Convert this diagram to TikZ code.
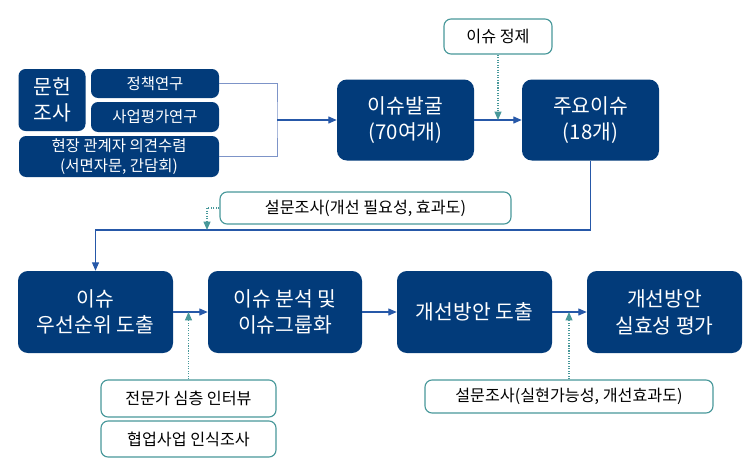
\documentclass[tikz,border=0pt]{standalone}
\usepackage{fontspec}
\setmainfont{Noto Sans CJK KR}
\usetikzlibrary{arrows.meta}
\definecolor{navy}{RGB}{2,59,122}
\definecolor{teal}{RGB}{72,152,154}
\definecolor{flowblue}{RGB}{38,88,168}
\definecolor{brkblue}{RGB}{125,148,200}
\begin{document}
\begin{tikzpicture}
    \tikzstyle{dark}=[rectangle,rounded corners=7pt,fill=navy,text=white,align=center,inner sep=0pt,
                      font=\fontsize{14.5}{19}\selectfont]
    \tikzstyle{small}=[dark,rounded corners=5pt,font=\fontsize{11}{14}\selectfont]
    \tikzstyle{note}=[rectangle,rounded corners=5pt,draw=teal,line width=0.8pt,fill=white,align=center,
                      inner sep=0pt,font=\fontsize{11.5}{14}\selectfont]
    \tikzstyle{flow}=[flowblue,line width=0.8pt,-{Triangle[length=6pt,width=5pt]}]
    \tikzstyle{bracket}=[brkblue,line width=0.7pt]
    \tikzstyle{hint}=[teal,line width=0.8pt,densely dotted,-{Triangle[length=6pt,width=5pt]}]
    \useasboundingbox (0,0) rectangle (18.825,11.65);

    \node[small,minimum width=1.675cm,minimum height=1.55cm,font=\fontsize{14.5}{19}\selectfont]
        (munhun) at (1.3,9.15) {문헌\\조사};
    \node[small,minimum width=3.2cm,minimum height=0.725cm] (jeongchaek) at (3.875,9.5625) {정책연구};
    \node[small,minimum width=3.2cm,minimum height=0.75cm] (saeop) at (3.875,8.725) {사업평가연구};
    \node[small,minimum width=5cm,minimum height=1.025cm] (hyeonjang) at (2.975,7.7375)
        {현장 관계자 의견수렴\\(서면자문, 간담회)};

    \node[dark,minimum width=3.425cm,minimum height=2.025cm] (balgul) at (10.1375,8.65) {이슈발굴\\(70여개)};
    \node[dark,minimum width=3.425cm,minimum height=2.025cm] (juyo) at (14.7625,8.65) {주요이슈\\(18개)};
    \node[note,minimum width=2.7cm,minimum height=0.875cm] (jeongje) at (12.45,10.7375) {이슈 정제};
    \node[note,minimum width=7.275cm,minimum height=0.8cm] (survey1) at (9.1375,6.45)
        {설문조사(개선 필요성, 효과도)};

    \node[dark,minimum width=3.875cm,minimum height=2.05cm] (usun) at (2.3875,3.85) {이슈\\우선순위 도출};
    \node[dark,minimum width=3.85cm,minimum height=2.05cm] (bunseok) at (7.125,3.85) {이슈 분석 및\\이슈그룹화};
    \node[dark,minimum width=3.875cm,minimum height=2.05cm] (gaeseon) at (11.8625,3.85) {개선방안 도출};
    \node[dark,minimum width=3.875cm,minimum height=2.05cm] (silhyo) at (16.6125,3.85) {개선방안\\실효성 평가};

    \node[note,minimum width=4.375cm,minimum height=0.925cm] (jeonmun) at (4.7125,1.6875) {전문가 심층 인터뷰};
    \node[note,minimum width=4.375cm,minimum height=0.9cm] (hyeobeop) at (4.7125,0.675) {협업사업 인식조사};
    \node[note,minimum width=7.2cm,minimum height=0.825cm] (survey2) at (14.225,1.7375)
        {설문조사(실현가능성, 개선효과도)};

    \coordinate (brk) at (6.925,8.65);
    \coordinate (jeongjein) at (12.45,8.65);
    \coordinate (back) at (14.7625,5.9);
    \coordinate (backin) at (5.175,5.9);
    \coordinate (jeonmunin) at (4.7125,3.85);
    \coordinate (survey2in) at (14.225,3.85);

    \draw[bracket] (jeongchaek.east) -| (brk) |- (hyeonjang.east);
    \draw[flow] (brk) -- (balgul.west);
    \draw[flow] (balgul.east) -- (juyo.west);
    \draw[hint] (jeongje.south) -- (jeongjein);
    \draw[flow] (juyo.south) -- (back) -| (usun.north);
    \draw[hint] (survey1.west) -| (backin);

    \draw[flow] (usun.east) -- (bunseok.west);
    \draw[flow] (bunseok.east) -- (gaeseon.west);
    \draw[flow] (gaeseon.east) -- (silhyo.west);
    \draw[hint] (jeonmun.north) -- (jeonmunin);
    \draw[hint] (survey2.north) -- (survey2in);

\end{tikzpicture}
\end{document}
